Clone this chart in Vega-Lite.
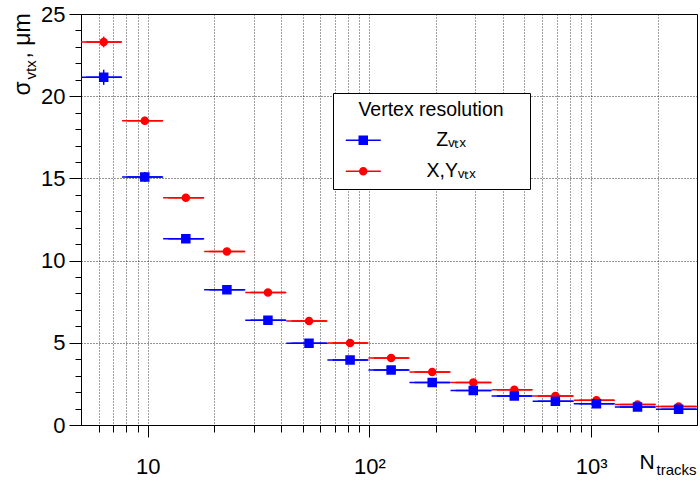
{
  "$schema": "https://vega.github.io/schema/vega-lite/v6.json",
  "width": 616,
  "height": 411,
  "autosize": {"type": "none"},
  "padding": {"left": 81, "top": 14, "right": 3, "bottom": 57},
  "background": "white",
  "data": {
    "values": [
      {"series": "X,Yᵥₜₓ", "c": 6.329, "lo": 5, "hi": 7.659, "v": 23.3, "ylo": 22.97, "yhi": 23.63},
      {"series": "X,Yᵥₜₓ", "c": 9.695, "lo": 7.659, "hi": 11.731, "v": 18.5, "ylo": 18.25, "yhi": 18.75},
      {"series": "X,Yᵥₜₓ", "c": 14.85, "lo": 11.731, "hi": 17.969, "v": 13.83, "ylo": 13.65, "yhi": 14.01},
      {"series": "X,Yᵥₜₓ", "c": 22.75, "lo": 17.969, "hi": 27.524, "v": 10.56, "ylo": 10.42, "yhi": 10.7},
      {"series": "X,Yᵥₜₓ", "c": 34.84, "lo": 27.524, "hi": 42.16, "v": 8.06, "ylo": 7.96, "yhi": 8.16},
      {"series": "X,Yᵥₜₓ", "c": 53.37, "lo": 42.16, "hi": 64.578, "v": 6.33, "ylo": 6.25, "yhi": 6.41},
      {"series": "X,Yᵥₜₓ", "c": 81.75, "lo": 64.578, "hi": 98.916, "v": 4.99, "ylo": 4.93, "yhi": 5.05},
      {"series": "X,Yᵥₜₓ", "c": 125.2, "lo": 98.916, "hi": 151.51, "v": 4.07, "ylo": 4.02, "yhi": 4.12},
      {"series": "X,Yᵥₜₓ", "c": 191.8, "lo": 151.51, "hi": 232.08, "v": 3.22, "ylo": 3.18, "yhi": 3.26},
      {"series": "X,Yᵥₜₓ", "c": 293.8, "lo": 232.08, "hi": 355.48, "v": 2.59, "ylo": 2.55, "yhi": 2.63},
      {"series": "X,Yᵥₜₓ", "c": 450.0, "lo": 355.48, "hi": 544.52, "v": 2.15, "ylo": 2.12, "yhi": 2.18},
      {"series": "X,Yᵥₜₓ", "c": 689.3, "lo": 544.52, "hi": 834.06, "v": 1.76, "ylo": 1.73, "yhi": 1.79},
      {"series": "X,Yᵥₜₓ", "c": 1055.8, "lo": 834.06, "hi": 1277.6, "v": 1.51, "ylo": 1.48, "yhi": 1.54},
      {"series": "X,Yᵥₜₓ", "c": 1617.3, "lo": 1277.6, "hi": 1956.9, "v": 1.25, "ylo": 1.22, "yhi": 1.28},
      {"series": "X,Yᵥₜₓ", "c": 2478.5, "lo": 1956.9, "hi": 3000, "v": 1.13, "ylo": 1.1, "yhi": 1.16},
      {"series": "Zᵥₜₓ", "c": 6.329, "lo": 5, "hi": 7.659, "v": 21.15, "ylo": 20.69, "yhi": 21.61},
      {"series": "Zᵥₜₓ", "c": 9.695, "lo": 7.659, "hi": 11.731, "v": 15.09, "ylo": 14.79, "yhi": 15.39},
      {"series": "Zᵥₜₓ", "c": 14.85, "lo": 11.731, "hi": 17.969, "v": 11.33, "ylo": 11.13, "yhi": 11.53},
      {"series": "Zᵥₜₓ", "c": 22.75, "lo": 17.969, "hi": 27.524, "v": 8.22, "ylo": 8.07, "yhi": 8.37},
      {"series": "Zᵥₜₓ", "c": 34.84, "lo": 27.524, "hi": 42.16, "v": 6.37, "ylo": 6.25, "yhi": 6.49},
      {"series": "Zᵥₜₓ", "c": 53.37, "lo": 42.16, "hi": 64.578, "v": 4.97, "ylo": 4.87, "yhi": 5.07},
      {"series": "Zᵥₜₓ", "c": 81.75, "lo": 64.578, "hi": 98.916, "v": 3.95, "ylo": 3.87, "yhi": 4.03},
      {"series": "Zᵥₜₓ", "c": 125.2, "lo": 98.916, "hi": 151.51, "v": 3.34, "ylo": 3.28, "yhi": 3.4},
      {"series": "Zᵥₜₓ", "c": 191.8, "lo": 151.51, "hi": 232.08, "v": 2.59, "ylo": 2.54, "yhi": 2.64},
      {"series": "Zᵥₜₓ", "c": 293.8, "lo": 232.08, "hi": 355.48, "v": 2.1, "ylo": 2.06, "yhi": 2.14},
      {"series": "Zᵥₜₓ", "c": 450.0, "lo": 355.48, "hi": 544.52, "v": 1.76, "ylo": 1.72, "yhi": 1.8},
      {"series": "Zᵥₜₓ", "c": 689.3, "lo": 544.52, "hi": 834.06, "v": 1.45, "ylo": 1.42, "yhi": 1.48},
      {"series": "Zᵥₜₓ", "c": 1055.8, "lo": 834.06, "hi": 1277.6, "v": 1.29, "ylo": 1.26, "yhi": 1.32},
      {"series": "Zᵥₜₓ", "c": 1617.3, "lo": 1277.6, "hi": 1956.9, "v": 1.09, "ylo": 1.06, "yhi": 1.12},
      {"series": "Zᵥₜₓ", "c": 2478.5, "lo": 1956.9, "hi": 3000, "v": 0.96, "ylo": 0.93, "yhi": 0.99}
    ]
  },
  "resolve": {"axis": {"x": "independent", "y": "independent"}},
  "layer": [
    {
      "mark": {"type": "rule", "strokeWidth": 1.5},
      "encoding": {
        "x": {
          "field": "lo", "type": "quantitative",
          "scale": {"type": "log", "domain": [5, 3000], "nice": false, "zero": false},
          "axis": {
            "orient": "bottom",
            "values": [6, 7, 8, 9, 10, 20, 30, 40, 50, 60, 70, 80, 90, 100, 200, 300, 400, 500, 600, 700, 800, 900, 1000, 2000],
            "labelExpr": "datum.value == 10 ? '10' : datum.value == 100 ? '10²' : datum.value == 1000 ? '10³' : ''",
            "labelOverlap": false, "labelFlush": false, "labelBound": false,
            "labelFont": "Liberation Sans", "labelFontSize": 22, "labelColor": "#000", "labelPadding": 19,
            "tickSize": {"condition": {"test": "datum.value == 10 || datum.value == 100 || datum.value == 1000", "value": 12}, "value": 7},
            "tickColor": "#000", "tickWidth": 1,
            "domainColor": "#000", "domainWidth": 1,
            "grid": true, "gridColor": "#000", "gridDash": [1, 2], "gridOpacity": 0.75, "gridWidth": 1,
            "title": "N", "titleFont": "Liberation Sans", "titleFontSize": 21, "titleFontWeight": "normal", "titleColor": "#000",
            "titleX": 558, "titleY": 43, "titleAlign": "left", "titleBaseline": "alphabetic", "titleAngle": 0
          }
        },
        "x2": {"field": "hi"},
        "y": {
          "field": "v", "type": "quantitative",
          "scale": {"domain": [0, 25], "nice": false, "zero": true},
          "axis": {
            "orient": "left",
            "values": [0, 1, 2, 3, 4, 5, 6, 7, 8, 9, 10, 11, 12, 13, 14, 15, 16, 17, 18, 19, 20, 21, 22, 23, 24, 25],
            "labelExpr": "datum.value % 5 == 0 ? datum.label : ''",
            "labelOverlap": false, "labelFlush": false, "labelBound": false,
            "labelFont": "Liberation Sans", "labelFontSize": 22, "labelColor": "#000", "labelPadding": 4,
            "tickSize": {"condition": {"test": "datum.value % 5 == 0", "value": 12}, "value": 6},
            "tickColor": "#000", "tickWidth": 1,
            "domainColor": "#000", "domainWidth": 1,
            "grid": true, "gridColor": "#000", "gridDash": [1, 2], "gridWidth": 1,
            "gridOpacity": {"condition": {"test": "datum.value % 5 == 0 && datum.value > 0 && datum.value < 25", "value": 0.85}, "value": 0},
            "title": "σ", "titleFont": "Liberation Sans", "titleFontSize": 23, "titleFontWeight": "normal", "titleColor": "#000",
            "titleX": -52, "titleY": 81, "titleAngle": -90, "titleAlign": "left", "titleBaseline": "alphabetic"
          }
        },
        "stroke": {
          "field": "series", "type": "nominal",
          "scale": {"domain": ["Zᵥₜₓ", "X,Yᵥₜₓ"], "range": ["#0000ff", "#ff0000"]}
        }
      }
    },
    {
      "mark": {"type": "rule", "strokeWidth": 1.5},
      "encoding": {
        "x": {
          "field": "c", "type": "quantitative",
          "axis": {
            "orient": "bottom", "labels": false, "ticks": false, "domain": false, "grid": false,
            "title": "tracks", "titleFont": "Liberation Sans", "titleFontSize": 15, "titleFontWeight": "normal", "titleColor": "#000",
            "titleX": 575, "titleY": 49, "titleAlign": "left", "titleBaseline": "alphabetic", "titleAngle": 0
          }
        },
        "y": {
          "field": "ylo", "type": "quantitative",
          "axis": {
            "orient": "left", "labels": false, "ticks": false, "domain": false, "grid": false,
            "title": "vtx", "titleFont": "Liberation Sans", "titleFontSize": 15, "titleFontWeight": "normal", "titleColor": "#000",
            "titleX": -46, "titleY": 65, "titleAngle": -90, "titleAlign": "left", "titleBaseline": "alphabetic"
          }
        },
        "y2": {"field": "yhi"},
        "stroke": {"field": "series", "type": "nominal"}
      }
    },
    {
      "mark": {"type": "point", "filled": true, "opacity": 1, "size": 100, "strokeWidth": 1.5},
      "encoding": {
        "x": {"field": "c", "type": "quantitative", "axis": null},
        "y": {
          "field": "v", "type": "quantitative",
          "axis": {
            "orient": "left", "labels": false, "ticks": false, "domain": false, "grid": false,
            "title": ", μm", "titleFont": "Liberation Sans", "titleFontSize": 23, "titleFontWeight": "normal", "titleColor": "#000",
            "titleX": -52, "titleY": 44, "titleAngle": -90, "titleAlign": "left", "titleBaseline": "alphabetic"
          }
        },
        "shape": {
          "field": "series", "type": "nominal",
          "scale": {"domain": ["Zᵥₜₓ", "X,Yᵥₜₓ"], "range": ["M-3.5,0H3.5M-0.8,-0.8H0.8V0.8H-0.8ZM31.1,0", "M-3.5,0H3.5M0.7,0A0.7,0.7,0,1,1,-0.7,0A0.7,0.7,0,1,1,0.7,0ZM31.1,0"]}
        },
        "stroke": {"field": "series", "type": "nominal"},
        "color": {
          "field": "series", "type": "nominal",
          "scale": {"domain": ["Zᵥₜₓ", "X,Yᵥₜₓ"], "range": ["#0000ff", "#ff0000"]},
          "legend": {
            "orient": "none", "legendX": 252, "legendY": 79, "direction": "vertical",
            "title": "Vertex resolution", "titleFont": "Liberation Sans", "titleFontSize": 19.5, "titleFontWeight": "normal", "titleColor": "#000",
            "titleAnchor": "middle", "titleAlign": "center", "titlePadding": 10,
            "labelFont": "Liberation Sans", "labelFontSize": 19.5, "labelColor": "#000", "labelOffset": 78, "labelAlign": "center",
            "symbolSize": 100, "symbolOffset": 12.5, "symbolStrokeWidth": 1.5,
            "padding": 8, "rowPadding": 10,
            "strokeColor": "#000", "fillColor": "#fff", "cornerRadius": 0
          }
        }
      }
    }
  ],
  "config": {
    "font": "Liberation Sans",
    "view": {"stroke": "#000", "strokeWidth": 1}
  }
}
